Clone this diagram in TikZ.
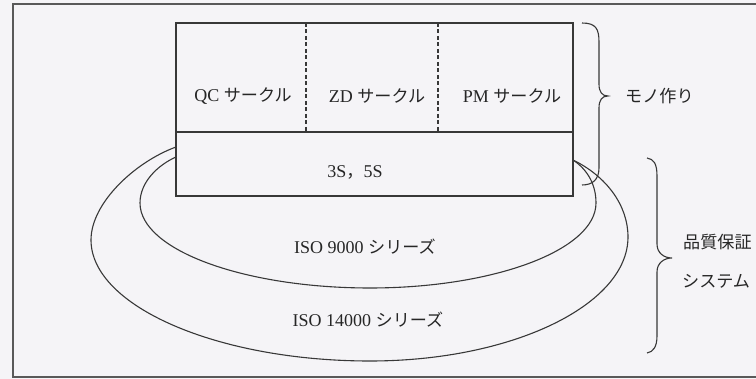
\documentclass[tikz,border=0pt]{standalone}
\usepackage{fontspec}
\setmainfont{Liberation Serif}
\newfontfamily\jp[Scale=0.95]{Noto Sans CJK JP}
\definecolor{linec}{HTML}{383838}
\definecolor{bgc}{HTML}{F5F4F7}
\begin{document}
\begin{tikzpicture}[x=1pt,y=-1pt]
\tikzset{
  ln/.style={draw=linec, line width=1.1pt},
  dashln/.style={draw=linec, line width=1.1pt, dash pattern=on 4pt off 2.5pt},
  lbl/.style={font=\fontsize{18}{21}\selectfont, text=black!85, inner sep=0pt},
}
\fill[bgc] (0,0) rectangle (756,379);
\useasboundingbox (0,0) rectangle (756,379);
\clip (0,0) rectangle (756,379);
% outer frame
\draw[ln, line width=1.4pt, draw=black!65] (13,4) rectangle (770,377);
% main box
\coordinate (boxtl) at (176,23);
\coordinate (boxbr) at (573,196);
\draw[ln] (boxtl) rectangle (boxbr);
\coordinate (midl) at (176,132);
\coordinate (midr) at (573,132);
\draw[ln] (midl) -- (midr);
\coordinate (d1t) at (306,23); \coordinate (d1b) at (306,132);
\coordinate (d2t) at (438,23); \coordinate (d2b) at (438,132);
\draw[dashln] (d1t) -- (d1b);
\draw[dashln] (d2t) -- (d2b);
% texts in box
\node[lbl] (qc) at (243,96) {QC {\jp サークル}};
\node[lbl] (zd) at (377,96) {ZD {\jp サークル}};
\node[lbl] (pm) at (512,96) {PM {\jp サークル}};
\node[lbl] (ss) at (355,172) {3S{\jp ，}5S};
% curves
\coordinate (in0) at (176,157);
\coordinate (in1) at (140,203);
\coordinate (in2) at (370,288);
\coordinate (in3) at (596,203);
\coordinate (ine) at (573,160);
\draw[ln] (in0) .. controls (158,165) and (140,182) .. (in1)
  .. controls (140,250) and (244,288) .. (in2)
  .. controls (494,288) and (596,250) .. (in3)
  .. controls (596,185) and (588,170) .. (ine);
\coordinate (out0) at (176,147);
\coordinate (out1) at (91,240);
\coordinate (out2) at (370,361);
\coordinate (out3) at (628,237);
\coordinate (oute) at (573,160);
\draw[ln] (out0) .. controls (135,162) and (91,203) .. (out1)
  .. controls (91,306) and (217,361) .. (out2)
  .. controls (512,361) and (628,305) .. (out3)
  .. controls (628,205) and (606,176) .. (oute);
\node[lbl] (iso9) at (365,247) {ISO 9000 {\jp シリーズ}};
\node[lbl] (iso14) at (368,320) {ISO 14000 {\jp シリーズ}};
% brace 1
\coordinate (b1t) at (582,23);
\coordinate (b1tip) at (608,96);
\coordinate (b1b) at (582,185);
\draw[ln] (b1t) .. controls (596,23) and (599,29) .. (599,42) -- (599,84)
  .. controls (599,92) and (602,96) .. (b1tip)
  .. controls (602,96) and (599,100) .. (599,108) -- (599,168)
  .. controls (599,180) and (592,185) .. (b1b);
\node[lbl, anchor=west] (mono) at (625,96) {\jp モノ作り};
% brace 2
\coordinate (b2t) at (647,158);
\coordinate (b2tip) at (672,258);
\coordinate (b2b) at (647,353);
\draw[ln] (b2t) .. controls (654,159) and (657,164) .. (657,176) -- (657,244)
  .. controls (657,253) and (664,258) .. (b2tip)
  .. controls (664,258) and (657,263) .. (657,272) -- (657,336)
  .. controls (657,347) and (653,352) .. (b2b);
\node[lbl, anchor=west] (hin) at (683,242) {\jp 品質保証};
\node[lbl, anchor=west] (sys) at (682,281) {\jp システム};
\end{tikzpicture}
\end{document}
